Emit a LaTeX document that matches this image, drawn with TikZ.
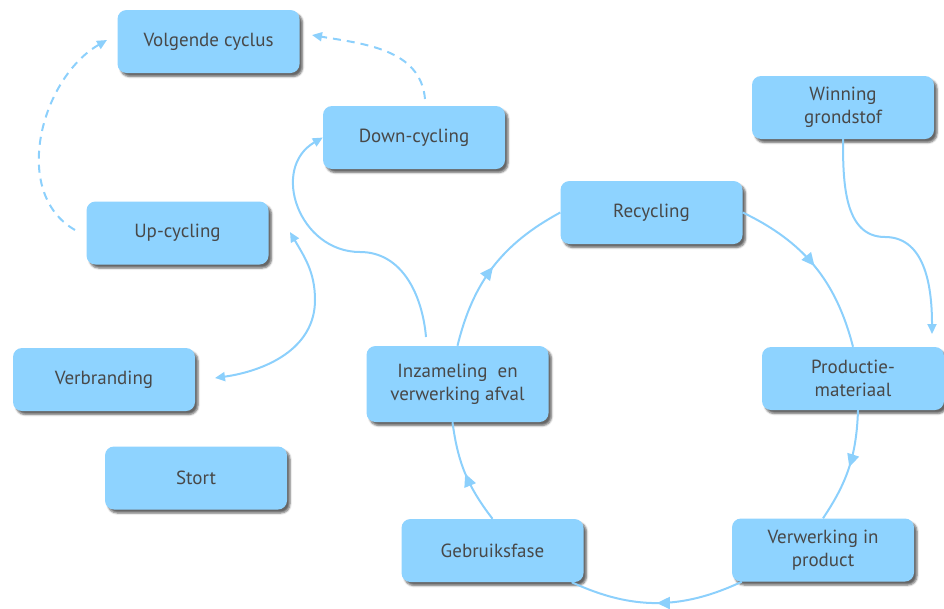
\documentclass[tikz,border=0pt]{standalone}
\usepackage{fontspec}
\setmainfont{PT Sans}
\usetikzlibrary{arrows.meta,shadows.blur,decorations.markings}
\definecolor{boxfill}{RGB}{142,211,255}
\definecolor{linkcol}{RGB}{140,208,252}
\definecolor{txtgray}{RGB}{72,72,72}

\begin{document}
\begin{tikzpicture}[x=1pt,y=1pt,
  box/.style={rectangle, rounded corners=9pt, fill=boxfill,
    minimum width=182pt, minimum height=63pt, align=center,
    text=txtgray, font=\fontsize{19}{23}\selectfont,
    blur shadow={shadow xshift=3pt, shadow yshift=-3.5pt,
      shadow blur steps=5, shadow opacity=60}},
  link/.style={draw=linkcol, line width=2pt},
  cyc/.style={link, postaction={decorate},
    decoration={markings, mark=at position 0.5 with
      {\arrow[linkcol]{Triangle[length=13pt,width=12pt]}}}},
  tipend/.style={-{Triangle[length=10pt,width=9pt]}},
  dashlink/.style={dash pattern=on 8pt off 6pt}
]
\useasboundingbox (0,0) rectangle (944,-608);

% boxes
\node[box] (vc) at (208.5,-41.5) {Volgende cyclus};
\node[box] (dc) at (414,-137.5) {Down-cycling};
\node[box] (up) at (177.5,-233) {Up-cycling};
\node[box] (win) at (843,-107.5) {Winning\\grondstof};
\node[box] (rec) at (651.5,-212.5) {Recycling};
\node[box] (prod) at (853,-378.5) {Productie-\\materiaal};
\node[box, minimum height=76pt] (inz) at (457.5,-384) {Inzameling\ \ en\\verwerking afval};
\node[box] (vb) at (104,-379.5) {Verbranding};
\node[box] (st) at (196,-478) {Stort};
\node[box] (geb) at (492.5,-550.5) {Gebruiksfase};
\node[box] (vw) at (823,-550) {Verwerking in\\product};

% the material cycle
\draw[cyc] (rec.east) to[bend left=25] (prod.north);
\draw[cyc] ([xshift=5pt]prod.south) to[bend left=16] (vw.north);
\draw[cyc] ([xshift=10pt]vw.south west) to[bend left=25] ([xshift=-12pt]geb.south east);
\draw[cyc] (geb.north) to[bend left=15] ([xshift=-5pt]inz.south);
\draw[cyc] (inz.north) to[bend left=24] (rec.west);

% free ends of the side connectors
\coordinate (prodTip) at (932,-334);
\coordinate (inzTop) at (426,-337);
\coordinate (upTip) at (290,-232);
\coordinate (vbTip) at (215,-378);
\coordinate (dcTop) at (425,-99);
\coordinate (vcRight) at (312,-35);
\coordinate (upLeft) at (75,-230);
\coordinate (vcLeft) at (107,-40);

% raw material into production
\draw[link, tipend] (win.south) to[out=-90,in=180] (885,-237)
  to[out=0,in=90] (prodTip);

% down-cycling branch
\draw[link, tipend] (inzTop) to[out=95,in=0] (360,-252)
  to[out=180,in=210,looseness=1.3] (dc.west);

% up-cycling and incineration branch
\draw[link, {Triangle[length=10pt,width=9pt]}-{Triangle[length=10pt,width=9pt]}]
  (vbTip) to[out=8,in=-90] (315,-300) to[out=90,in=-60] (upTip);

% towards the next cycle
\draw[link, dashlink, tipend] (dcTop) to[out=95,in=-10] (vcRight);
\draw[link, dashlink, tipend] (upLeft) to[out=150,in=210] (vcLeft);
\end{tikzpicture}
\end{document}
